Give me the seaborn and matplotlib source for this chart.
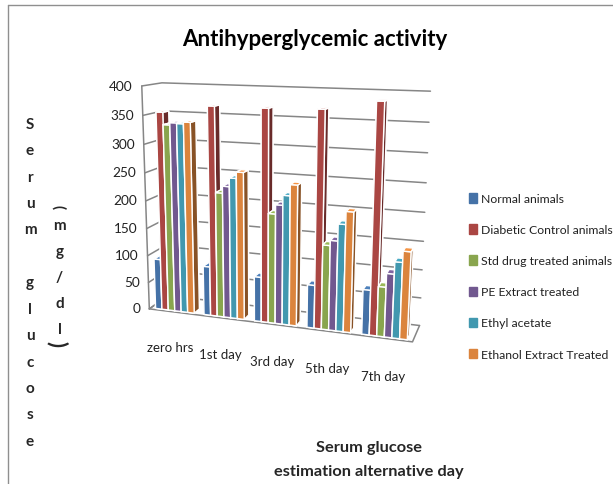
import numpy as np
import matplotlib
matplotlib.use('Agg')
import matplotlib.pyplot as plt
from matplotlib.patches import Patch
from matplotlib.colors import to_rgb
import seaborn as sns

# datos
dias = ['zero hrs', '1st day', '3rd day', '5th day', '7th day']
normal = [93, 89, 80, 76, 78]
diabetico = [356, 370, 370, 372, 388]
estandar = [335, 223, 194, 148, 86]
pe_extracto = [339, 235, 210, 157, 110]
etil_acetato = [338, 250, 227, 186, 131]
etanol = [341, 261, 246, 208, 150]
series = ['Normal animals', 'Diabetic Control animals', 'Std drug treated animals',
          'PE Extract treated', 'Ethyl acetate', 'Ethanol Extract Treated']
valores = [normal, diabetico, estandar, pe_extracto, etil_acetato, etanol]
marcas_y = [0, 50, 100, 150, 200, 250, 300, 350, 400]

sns.set_theme(style='white')
plt.rcParams['font.family'] = ['Lato', 'DejaVu Sans']
paleta = sns.color_palette(['#4572A7', '#AA4643', '#89A54E', '#71588F', '#4198AF', '#DB843D'])

fig = plt.figure(figsize=(6.13, 4.85), dpi=100)
ax = fig.add_axes([0.152, 0.223, 0.60, 0.68], projection='3d')
ax.computed_zorder = False
ax.set_proj_type('persp', focal_length=0.45)
ax.view_init(elev=13, azim=-72, roll=-0.3)
ax.set_box_aspect((5, 0.8, 4.2), zoom=1.08)
ax.set_xlim(0, 5)
ax.set_ylim(0, 1)
ax.set_zlim(0, 400)
ax.set_axis_off()

# paredes: lineas de la grilla en el fondo y pared izquierda
for m in marcas_y:
    ax.plot([0, 0, 5], [0, 1, 1], [m, m, m], color='#868686', lw=1.1, zorder=1)
    ax.text(-0.18, 0, m, str(m), ha='right', va='center', fontsize=9.8, color='#222222')
ax.plot([0, 0], [0, 0], [0, 400], color='#868686', lw=1.1, zorder=1)
ax.plot([0, 5, 5], [0, 0, 1], [0, 0, 0], color='#868686', lw=1.1, zorder=1)
ax.plot([0, 0], [0, 1], [0, 0], color='#868686', lw=1.1, zorder=1)

# barras, de izquierda a derecha para que la cara oscura quede tapada por la vecina
ancho = 0.8 / 6
for j in range(len(dias)):
    for i, s in enumerate(valores):
        c = np.array(to_rgb(paleta[i]))
        caras = [c, np.clip(c * 1.12, 0, 1), c, c, c, c * 0.62]
        ax.bar3d(j + 0.1 + i * ancho, 0.08, 0, ancho, 0.3, s[j], color=caras, shade=False,
                 zorder=2 + j * 6 + i)

for j, d in enumerate(dias):
    ax.text(j + 0.58, -0.42, -42, d, ha='center', va='top', fontsize=9.5, color='#222222')

fig.text(0.514, 0.918, 'Antihyperglycemic activity', ha='center', va='center',
         fontsize=16, fontweight='bold', color='black')

manijas = [Patch(color=paleta[i], label=s) for i, s in enumerate(series)]
fig.legend(handles=manijas, loc='upper left', bbox_to_anchor=(0.755, 0.612), frameon=False,
           fontsize=8.8, labelspacing=1.64, handlelength=0.65,
           handleheight=0.8, handletextpad=0.35, borderpad=0, labelcolor='#222222')

# titulos de ejes, letra por letra
fig.text(0.049, 0.416, 'S\ne\nr\nu\nm\n\ng\nl\nu\nc\no\ns\ne', ha='center', va='center',
         fontweight='bold', fontsize=11, linespacing=2.13)
fig.text(0.097, 0.427, 'm\ng\n/\nd\nl', ha='center', va='center', fontweight='bold',
         fontsize=11, linespacing=2.1)
fig.text(0.095, 0.573, '(', rotation=-90, ha='center', va='center', fontweight='bold', fontsize=11)
fig.text(0.093, 0.291, ')', rotation=-90, ha='center', va='center', fontweight='bold', fontsize=16)
fig.text(0.602, 0.0515, 'Serum glucose\nestimation alternative day', ha='center', va='center',
         fontweight='bold', fontsize=11.8, linespacing=1.95)

# borde de la imagen
fig.add_artist(plt.Line2D([0.0125, 0.0125], [0, 0.988], color='#8f8f8f', lw=1))
fig.add_artist(plt.Line2D([0.0125, 1], [0.988, 0.988], color='#8f8f8f', lw=1))

fig.savefig('out.png', dpi=100)
